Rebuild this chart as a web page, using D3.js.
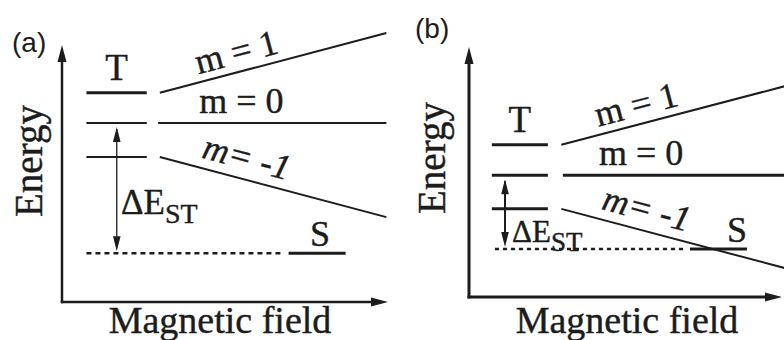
<!DOCTYPE html>
<html>
<head>
<meta charset="utf-8">
<script src="https://cdn.jsdelivr.net/npm/d3@7"></script>
<style>
  body { margin: 0; background: #fff; }
  text { fill: #1c1c1c; stroke: #1c1c1c; stroke-width: 0.4px; }
</style>
</head>
<body>
<svg id="chart" width="784" height="340"></svg>
<script>
// Energy levels of a triplet (T) and singlet (S) state versus magnetic field.
// Two cases: (a) large singlet-triplet gap, (b) small gap where m = -1 crosses S.

const panelTags = ["(a)", "(b)"];
const fieldDomain = [0, 10];                       // magnetic field, arbitrary units
const energyDomains = [[-5.5, 2.4], [-3.8, 4.0]];  // energy, arbitrary units (m = 0 at zero)

// zero-field triplet sublevels, ordered m = 1, 0, -1
const zeemanM = [1, 0, -1];
const zeemanLabels = ["m = 1", "m = 0", "m= -1"];
const tripletLevels = [[0.93, 0, -1.04], [0.95, 0, -1.05]];
// field range of the short zero-field level marks
const levelFieldSpan = [[0.75, 2.6], [0.73, 2.52]];
// Zeeman branches: start field per sublevel, end field, energy reached at the end
const zeemanStartField = [[3.0, 2.95, 3.0], [2.95, 3.0, 2.95]];
const zeemanEndField = [9.95, 10.1];
const zeemanEndEnergy = [[2.77, 0, -2.89], [2.78, 0, -2.9]];
// singlet level: energy, dotted reference span, solid level span
const singletEnergy = [-4.0, -2.3];
const singletDottedSpan = [[0.75, 6.8], [0.83, 6.96]];
const singletSolidSpan = [[6.95, 8.7], [7.06, 8.88]];
// field position of the ΔE_ST double arrow
const gapArrowField = [1.68, 1.15];
const labelField = 5.5;

const axisTitleX = "Magnetic field";
const axisTitleY = "Energy";

// ---------- layout (pixels) ----------
const layout = [
  { xr: [62, 388], yr: [302, 45], axisW: 2.5, levelW: [3, 2, 2], zeroW: 2, gapW: 1.3,
    tagX: 12, tagY: 52, tagSize: 28, eX: 42, eY: 161, mfX: 220, mfY: 333,
    dE: { x: 121, y: 214, big: 35, small: 28, sub: 9 }, dash: "5,4" },
  { xr: [469, 782], yr: [297, 47], axisW: 3, levelW: [3, 3, 3], zeroW: 3, gapW: 2,
    tagX: 415, tagY: 38, tagSize: 28, eX: 445, eY: 158, mfX: 627, mfY: 333,
    dE: { x: 512, y: 242, big: 31, small: 27, sub: 9 }, dash: "4,4" }
];

const ink = "#1c1c1c";
const SERIF = "Liberation Serif";
const SANS = "Liberation Sans";
const svg = d3.select("#chart");

function arrowHead(g, tipX, tipY, dirX, dirY, len, half) {
  const bx = tipX - dirX * len, by = tipY - dirY * len;
  const nx = -dirY, ny = dirX;
  const p = d3.path();
  p.moveTo(tipX, tipY);
  p.lineTo(bx + nx * half, by + ny * half);
  p.lineTo(bx - nx * half, by - ny * half);
  p.closePath();
  g.append("path").attr("d", p.toString()).attr("fill", ink);
}

function label(g, fam, size) {
  return g.append("text").style("font-family", fam).style("font-size", size + "px");
}

panelTags.forEach((tag, i) => {
  const L = layout[i];
  const x = d3.scaleLinear().domain(fieldDomain).range(L.xr);
  const y = d3.scaleLinear().domain(energyDomains[i]).range(L.yr);
  const g = svg.append("g");
  const [eMin, eMax] = energyDomains[i];

  // axes with arrow tips
  g.append("line").attr("x1", x(0)).attr("y1", y(eMin) + L.axisW / 2)
    .attr("x2", x(0)).attr("y2", y(eMax) + 12)
    .attr("stroke", ink).attr("stroke-width", L.axisW);
  arrowHead(g, x(0), y(eMax), 0, -1, 17, 4.5);
  g.append("line").attr("x1", x(0) - L.axisW / 2).attr("y1", y(eMin))
    .attr("x2", x(fieldDomain[1]) - 12).attr("y2", y(eMin))
    .attr("stroke", ink).attr("stroke-width", L.axisW);
  arrowHead(g, x(fieldDomain[1]), y(eMin), 1, 0, 17, 4.5);

  // zero-field triplet sublevels
  tripletLevels[i].forEach((e, k) => {
    g.append("line")
      .attr("x1", x(levelFieldSpan[i][0])).attr("x2", x(levelFieldSpan[i][1]))
      .attr("y1", y(e)).attr("y2", y(e))
      .attr("stroke", ink).attr("stroke-width", L.levelW[k]);
  });

  // Zeeman branches and their labels
  zeemanM.forEach((m, k) => {
    const x0 = x(zeemanStartField[i][k]), y0 = y(tripletLevels[i][k]);
    const x1 = x(zeemanEndField[i]), y1 = y(zeemanEndEnergy[i][k]);
    g.append("line").attr("x1", x0).attr("y1", y0).attr("x2", x1).attr("y2", y1)
      .attr("stroke", ink).attr("stroke-width", m === 0 ? L.zeroW : 2);
    const lx = x(labelField);
    const t = (lx - x0) / (x1 - x0);
    const ly = y0 + t * (y1 - y0);
    const ang = Math.atan2(y1 - y0, x1 - x0) * 180 / Math.PI;
    label(g, SERIF, 36)
      .attr("transform", `translate(${lx},${ly}) rotate(${ang})`)
      .attr("y", m === 1 ? -8 : -10)
      .attr("text-anchor", "middle")
      .style("font-style", m === -1 ? "italic" : "normal")
      .style("white-space", "pre")
      .text(zeemanLabels[k]);
  });

  // "T" label over the zero-field levels
  label(g, SERIF, 37)
    .attr("x", x(d3.mean(levelFieldSpan[i])))
    .attr("y", y(tripletLevels[i][0]) - 13)
    .attr("text-anchor", "middle")
    .text("T");

  // singlet: dotted reference line and solid level
  const sy = y(singletEnergy[i]);
  g.append("line")
    .attr("x1", x(singletDottedSpan[i][0])).attr("x2", x(singletDottedSpan[i][1]))
    .attr("y1", sy).attr("y2", sy)
    .attr("stroke", ink).attr("stroke-width", 2.5).attr("stroke-dasharray", L.dash);
  g.append("line")
    .attr("x1", x(singletSolidSpan[i][0])).attr("x2", x(singletSolidSpan[i][1]))
    .attr("y1", sy).attr("y2", sy)
    .attr("stroke", ink).attr("stroke-width", 3);
  label(g, SERIF, 36)
    .attr("x", i === 0 ? x(d3.mean(singletSolidSpan[i])) + 3 : x(singletSolidSpan[i][1]))
    .attr("y", sy - 7)
    .attr("text-anchor", i === 0 ? "middle" : "end")
    .text("S");

  // ΔE_ST double arrow between m = 0 and S
  const ax = x(gapArrowField[i]);
  const top = y(0), bot = sy;
  g.append("line").attr("x1", ax).attr("x2", ax).attr("y1", top + 6).attr("y2", bot - 6)
    .attr("stroke", ink).attr("stroke-width", L.gapW);
  arrowHead(g, ax, top + 4, 0, -1, 15, 3.8);
  arrowHead(g, ax, bot - 2, 0, 1, 15, 3.8);
  const dt = label(g, SERIF, L.dE.big).attr("x", L.dE.x).attr("y", L.dE.y);
  dt.append("tspan").text("ΔE");
  dt.append("tspan").attr("dy", L.dE.sub).style("font-size", L.dE.small + "px").text("ST");

  // panel tag and axis titles
  label(g, SANS, L.tagSize).attr("x", L.tagX).attr("y", L.tagY)
    .style("stroke-width", "0px").text(tag);
  label(g, SERIF, 39)
    .attr("transform", `translate(${L.eX},${L.eY}) rotate(-90)`)
    .attr("text-anchor", "middle")
    .text(axisTitleY);
  label(g, SERIF, 38)
    .attr("x", L.mfX).attr("y", L.mfY)
    .attr("text-anchor", "middle")
    .text(axisTitleX);
});
</script>
</body>
</html>
